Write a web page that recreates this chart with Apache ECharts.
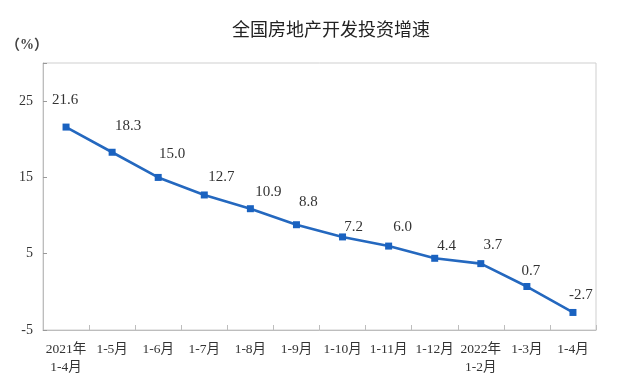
<!DOCTYPE html>
<html>
<head>
<meta charset="utf-8">
<script src="https://cdn.jsdelivr.net/npm/echarts@6/dist/echarts.min.js"></script>
<style>html,body{margin:0;padding:0;background:#fff;}#c{width:617px;height:390px;}</style>
</head>
<body>
<div id="c"></div>
<script>
const titleText = '全国房地产开发投资增速';
const unitText = '（%）';
const categories = ['2021年\n1-4月','1-5月','1-6月','1-7月','1-8月','1-9月','1-10月','1-11月','1-12月','2022年\n1-2月','1-3月','1-4月'];
const growth = [21.6, 18.3, 15.0, 12.7, 10.9, 8.8, 7.2, 6.0, 4.4, 3.7, 0.7, -2.7];
const yTicks = [-5, 5, 15, 25];
// label placement (style only)
const labelOffsets = [[-1,-27],[16,-26],[14,-23],[17,-18],[18,-17],[12,-23],[11,-10],[14,-19],[12,-12],[12,-19],[4,-15],[8,-17]];

const serif = '"Liberation Serif", "Noto Sans CJK SC", serif';
const chart = echarts.init(document.getElementById('c'), null, {renderer: 'canvas'});
chart.setOption({
  animation: false,
  backgroundColor: '#fff',
  title: {
    text: titleText, left: 227, top: 15,
    textStyle: {fontFamily: '"Noto Sans CJK SC", sans-serif', fontSize: 18, fontWeight: 'normal', color: '#222'}
  },
  graphic: [{
    type: 'text', left: 6, top: 38,
    style: {text: unitText, fontFamily: serif, fontSize: 14, fontWeight: 'bold', fill: '#444'}
  }],
  grid: {left: 43, top: 63, right: 21, bottom: 60, show: true, borderColor: '#cfcfcf', borderWidth: 1},
  xAxis: {
    type: 'category', data: categories, boundaryGap: true,
    axisLine: {onZero: false, lineStyle: {color: '#bdbdbd', width: 1}},
    axisTick: {show: true, inside: true, length: 5, lineStyle: {color: '#bdbdbd'}},
    axisLabel: {interval: 0, margin: 10, fontFamily: serif, fontSize: 13.5, color: '#333', lineHeight: 18}
  },
  yAxis: {
    type: 'value', min: -5, max: 30, interval: 10,
    splitLine: {show: false},
    axisLine: {show: true, lineStyle: {color: '#bdbdbd'}},
    axisTick: {show: true, inside: true, length: 4, lineStyle: {color: '#999'}},
    axisLabel: {
      margin: 10, fontFamily: serif, fontSize: 14, color: '#333',
      formatter: v => yTicks.indexOf(v) >= 0 ? String(v) : ''
    }
  },
  series: [{
    type: 'line',
    data: growth.map((v, i) => ({
      value: v,
      label: {offset: labelOffsets[i]}
    })),
    symbol: 'rect', symbolSize: 7,
    lineStyle: {color: '#2468bf', width: 2.6},
    itemStyle: {color: '#1a62c0'},
    label: {
      show: true, position: 'inside',
      fontFamily: serif, fontSize: 15, color: '#333',
      formatter: p => p.value.toFixed(1)
    }
  }]
});
</script>
</body>
</html>
